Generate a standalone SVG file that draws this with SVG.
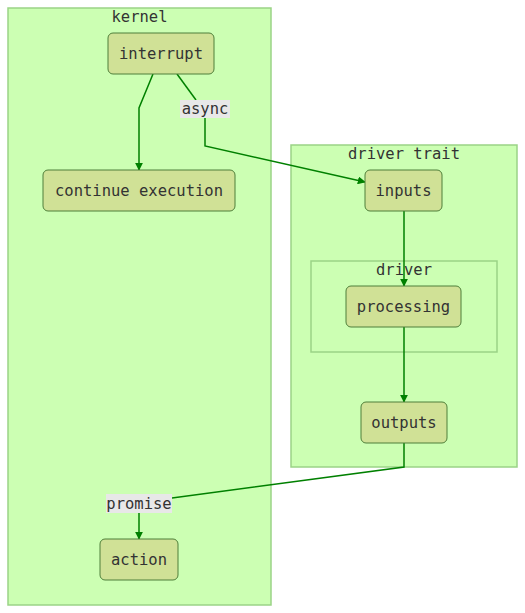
<svg xmlns="http://www.w3.org/2000/svg" width="525" height="613" viewBox="0 0 525 613">
<defs>
<style>
.cluster{fill:#ccffb3;stroke:#9bd387;stroke-width:1.5}
.node rect{fill:#d0e196;stroke:#4f7f3a;stroke-width:1}
text{font-family:"DejaVu Sans Mono","Liberation Mono",monospace;font-size:15.5px;fill:#333;text-anchor:middle;dominant-baseline:central}
.edge{fill:none;stroke:#008000;stroke-width:1.5}
.lbl rect{fill:#e8e8e8;stroke:none}
</style>
<marker id="arr" viewBox="0 0 10 10" refX="9" refY="5" markerWidth="8" markerHeight="8" markerUnits="userSpaceOnUse" orient="auto">
<path d="M0,0 L10,5 L0,10 z" fill="#008000"/>
</marker>
</defs>
<rect width="525" height="613" fill="#fff"/>
<g id="kernel"><rect class="cluster" x="8" y="8" width="263" height="597"/><text x="139.5" y="17">kernel</text></g>
<g id="driver_trait"><rect class="cluster" x="291" y="145" width="226" height="322"/><text x="404" y="154">driver trait</text></g>
<g id="driver"><rect class="cluster" x="311" y="261" width="186" height="91"/><text x="404" y="270">driver</text></g>
<g id="edges">
<path class="edge" d="M153,74 L139,108 L139,170" marker-end="url(#arr)"/>
<path class="edge" d="M177,74 L196,100"/>
<path class="edge" d="M205,118 L205,146 L365,182" marker-end="url(#arr)"/>
<path class="edge" d="M404,211 L404,286" marker-end="url(#arr)"/>
<path class="edge" d="M404,327 L404,402" marker-end="url(#arr)"/>
<path class="edge" d="M404,443 L404,467 L172,498"/>
<path class="edge" d="M139,513 L139,539" marker-end="url(#arr)"/>
</g>
<g id="interrupt" class="node"><rect x="108" y="33" width="106" height="41" rx="5"/><text x="161" y="53.5">interrupt</text></g>
<g id="continue" class="node"><rect x="43" y="170" width="192" height="41" rx="5"/><text x="139" y="190.5">continue execution</text></g>
<g id="inputs" class="node"><rect x="365" y="170" width="77" height="41" rx="5"/><text x="403.5" y="190.5">inputs</text></g>
<g id="processing" class="node"><rect x="346" y="286" width="115" height="41" rx="5"/><text x="403.5" y="306.5">processing</text></g>
<g id="outputs" class="node"><rect x="361" y="402" width="86" height="41" rx="5"/><text x="404" y="422.5">outputs</text></g>
<g id="action" class="node"><rect x="100" y="539" width="78" height="41" rx="5"/><text x="139" y="559.5">action</text></g>
<g id="async" class="lbl"><rect x="180" y="100" width="50" height="18"/><text x="205" y="109">async</text></g>
<g id="promise" class="lbl"><rect x="106" y="494" width="66" height="19"/><text x="139" y="503.5">promise</text></g>
</svg>
